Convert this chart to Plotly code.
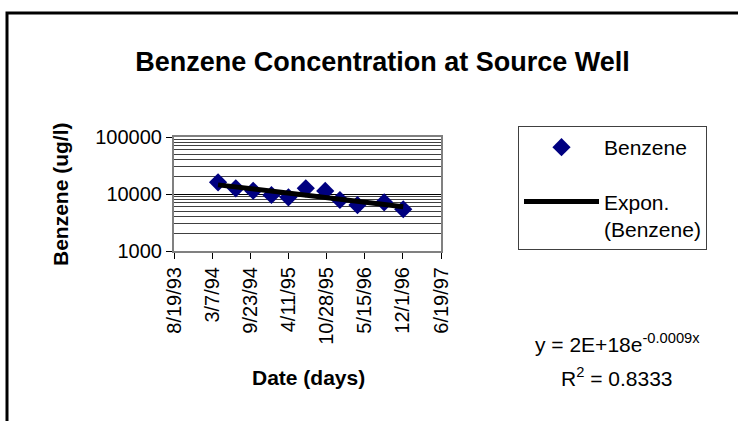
import numpy as np
import pandas as pd
import plotly.graph_objects as go

# ---- data ----
sample_dates = ["1994-04-07", "1994-07-09", "1994-10-08", "1995-01-12", "1995-04-11",
                "1995-07-11", "1995-10-21", "1996-01-06", "1996-04-07", "1996-08-25",
                "1996-12-03"]
benzene = [16000, 12600, 11400, 9600, 8750, 12600, 11300, 7850, 6400, 7150, 5400]

x_tick_dates = ["1993-08-19", "1994-03-07", "1994-09-23", "1995-04-11", "1995-10-28",
                "1996-05-15", "1996-12-01", "1997-06-19"]
x_tick_labels = ["8/19/93", "3/7/94", "9/23/94", "4/11/95", "10/28/95",
                 "5/15/96", "12/1/96", "6/19/97"]
y_tick_vals = [1000, 10000, 100000]
y_tick_labels = ["1000", "10000", "100000"]
y_minor_vals = [m * 10 ** k for k in (3, 4) for m in range(2, 10)]

# ---- exponential trend (least squares on log values) ----
d = pd.to_datetime(sample_dates)
days = (d - d[0]).days.values.astype(float)
slope, intercept = np.polyfit(days, np.log(benzene), 1)
trend_dates = [d[0], d[-1]]
trend_vals = [float(np.exp(intercept + slope * days[0])), float(np.exp(intercept + slope * days[-1]))]

FONT = "Arial, Liberation Sans, sans-serif"

fig = go.Figure()
fig.add_trace(go.Scatter(
    x=d, y=benzene, mode="markers", name="Benzene",
    marker=dict(symbol="diamond", size=14, color="#000080"),
    legendgroup="a"))
fig.add_trace(go.Scatter(
    x=trend_dates, y=trend_vals, mode="lines", name="Expon.<br>(Benzene)",
    line=dict(color="black", width=5), legendgroup="b"))

fig.update_layout(
    width=738, height=421,
    margin=dict(l=174, r=297, t=137, b=170),
    paper_bgcolor="white", plot_bgcolor="white",
    font=dict(family=FONT, size=20, color="black"),
    showlegend=True,
    legend=dict(x=(518 - 174) / 267, y=(251 - 126) / 114, xanchor="left", yanchor="top",
                bordercolor="#404040", borderwidth=1, bgcolor="white",
                font=dict(size=21), tracegroupgap=24, itemwidth=75, valign="top"),
    title=dict(text="<b>Benzene Concentration at Source Well</b>",
               x=382.5 / 738, xref="container", xanchor="center",
               y=1 - 62 / 421, yref="container", yanchor="middle",
               font=dict(size=27, family=FONT, color="black")),
)

fig.update_xaxes(
    type="date", range=[x_tick_dates[0], x_tick_dates[-1]],
    tickmode="array", tickvals=x_tick_dates, ticktext=x_tick_labels,
    tickangle=-90, ticks="outside", ticklen=6, tickcolor="black", tickwidth=1,
    showgrid=False, zeroline=False,
    showline=True, linecolor="#808080", linewidth=2, mirror=True,
    tickfont=dict(size=20),
)
fig.update_yaxes(
    type="log", range=[3, 5],
    tickmode="array", tickvals=y_tick_vals, ticktext=y_tick_labels,
    ticks="outside", ticklen=6, tickcolor="black", tickwidth=1,
    showgrid=True, gridcolor="black", gridwidth=1,
    minor=dict(tickmode="array", tickvals=y_minor_vals, showgrid=True,
               gridcolor="#404040", gridwidth=1, ticks=""),
    showline=True, linecolor="#808080", linewidth=2, mirror=True,
    tickfont=dict(size=20),
)

# axis titles
fig.add_annotation(text="<b>Benzene (ug/l)</b>", xref="paper", yref="paper",
                   x=(60 - 174) / 267, y=(251 - 194) / 114, textangle=-90,
                   showarrow=False, font=dict(size=21), xanchor="center", yanchor="middle")
fig.add_annotation(text="<b>Date (days)</b>", xref="paper", yref="paper",
                   x=(308 - 174) / 267, y=(251 - 377) / 114,
                   showarrow=False, font=dict(size=21), xanchor="center", yanchor="middle")

# trendline equation
fig.add_annotation(text="y = 2E+18e<sup>-0.0009x</sup>", xref="paper", yref="paper",
                   x=(617 - 174) / 267, y=(251 - 343) / 114,
                   showarrow=False, font=dict(size=21), xanchor="center", yanchor="middle")
fig.add_annotation(text="R<sup>2</sup> = 0.8333", xref="paper", yref="paper",
                   x=(617 - 174) / 267, y=(251 - 377) / 114,
                   showarrow=False, font=dict(size=21), xanchor="center", yanchor="middle")

# outer chart frame (extends beyond the crop on right and bottom)
fig.add_shape(type="rect", xref="paper", yref="paper",
              x0=(7 - 174) / 267, x1=(800 - 174) / 267,
              y0=(251 - 460) / 114, y1=(251 - 13) / 114,
              line=dict(color="black", width=3), fillcolor="rgba(0,0,0,0)")

fig.write_html("out.html", config={"displayModeBar": False},
               post_script="document.body.style.margin='0';")
